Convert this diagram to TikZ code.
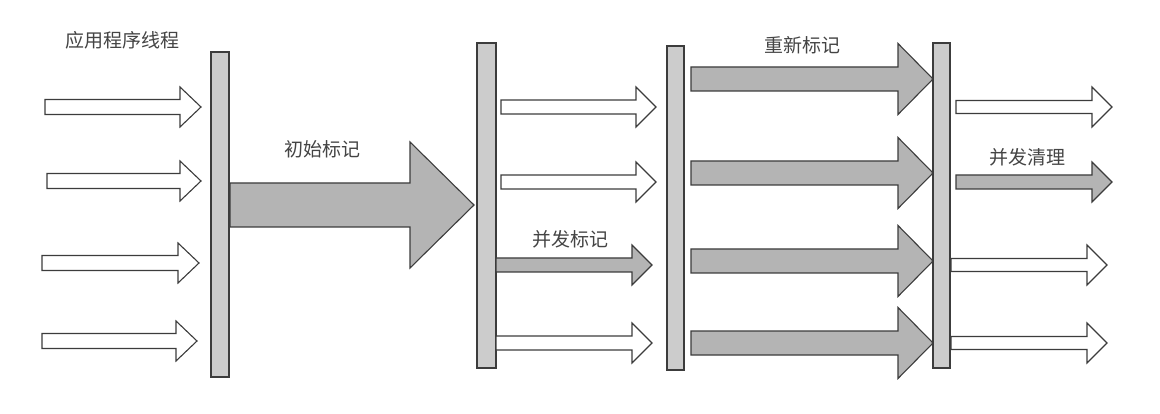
\documentclass[tikz,border=0pt]{standalone}
\usepackage{fontspec}
\setmainfont{Noto Sans CJK SC}
\definecolor{edge}{HTML}{3C3C3C}
\definecolor{barfill}{HTML}{CCCCCC}
\definecolor{arrfill}{HTML}{B4B4B4}
\definecolor{txt}{HTML}{444444}
\newcommand\harr[7]{% style, x0, xbase, xtip, yc, shaft half, head half
  \draw[#1] (#2,#5-#6) -- (#3,#5-#6) -- (#3,#5-#7) -- (#4,#5) -- (#3,#5+#7) -- (#3,#5+#6) -- (#2,#5+#6) -- cycle;}
\begin{document}
\begin{tikzpicture}[x=1pt,y=-1pt,
  barbox/.style={draw=edge,fill=barfill,line width=1.1pt},
  whitearr/.style={draw=edge,fill=white,line width=1.1pt,line join=miter},
  grayarr/.style={draw=edge,fill=arrfill,line width=1.1pt,line join=miter},
  lbl/.style={text=txt,font=\fontsize{19}{22}\selectfont,inner sep=0pt}]
\useasboundingbox[fill=white] (0,0) rectangle (1160,414);
% labels
\node[lbl] (t1) at (122,40) {应用程序线程};
\node[lbl] (t2) at (322,149) {初始标记};
\node[lbl] (t3) at (570,239) {并发标记};
\node[lbl] (t4) at (802,45) {重新标记};
\node[lbl] (t5) at (1027,157) {并发清理};
% zone 1 arrows
\harr{whitearr}{45}{180}{201}{107}{7.5}{20}
\harr{whitearr}{47}{180}{201}{181}{7.5}{20}
\harr{whitearr}{42}{178}{199}{263}{7.5}{20}
\harr{whitearr}{42}{176}{197}{341}{7.5}{20}
% bars
\draw[barbox] (211,52) rectangle (229,377);
\draw[barbox] (477,43) rectangle (496,368);
\draw[barbox] (667,46) rectangle (684,370);
\draw[barbox] (933,43) rectangle (950,368);
% big arrow
\harr{grayarr}{230}{410}{474}{205}{22}{63}
% zone 3
\harr{whitearr}{501}{636}{656}{107}{7}{20}
\harr{whitearr}{501}{636}{656}{182}{7}{20}
\harr{grayarr}{496}{632}{652}{265}{7}{20}
\harr{whitearr}{496}{632}{652}{343}{7}{20}
% zone 4
\harr{grayarr}{691}{898}{933}{79}{12}{35.5}
\harr{grayarr}{691}{898}{933}{173}{12}{35.5}
\harr{grayarr}{691}{898}{933}{261}{12}{35.5}
\harr{grayarr}{691}{898}{933}{343}{12}{35.5}
% zone 5
\harr{whitearr}{956}{1092}{1112}{107}{6.5}{20}
\harr{grayarr}{956}{1092}{1112}{182}{7}{20}
\harr{whitearr}{951}{1087}{1107}{265}{6.5}{20}
\harr{whitearr}{951}{1087}{1107}{343}{6.5}{20}
\end{tikzpicture}
\end{document}
